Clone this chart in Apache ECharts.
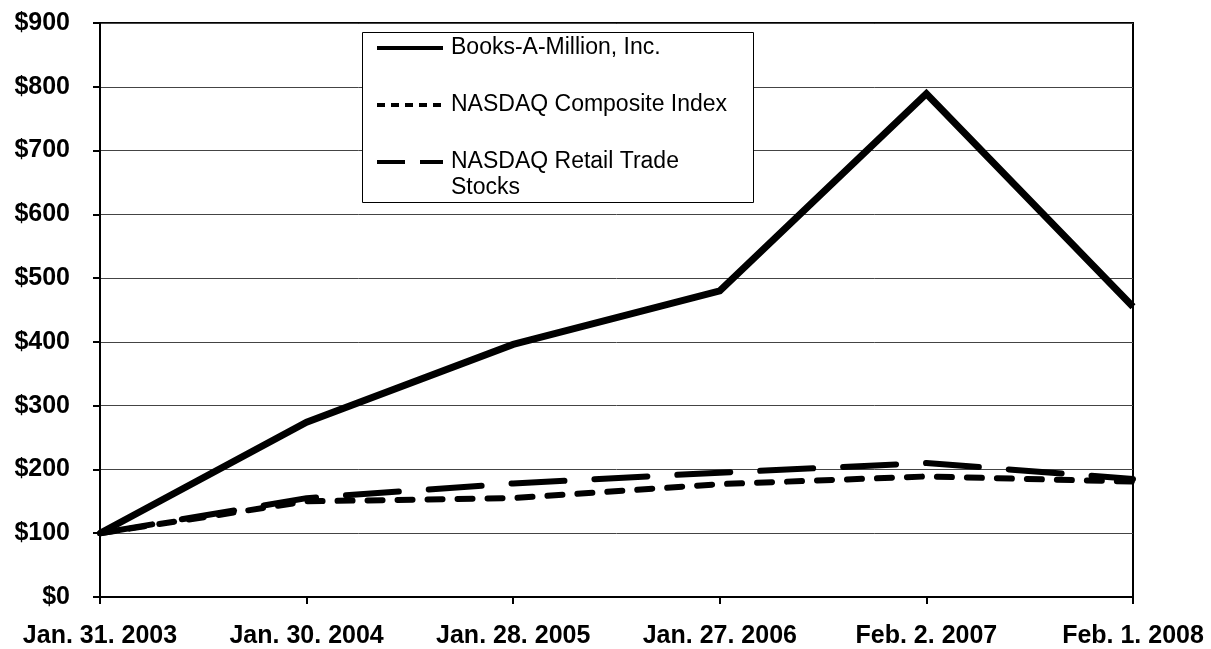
<!DOCTYPE html>
<html>
<head>
<meta charset="utf-8">
<script src="https://cdn.jsdelivr.net/npm/echarts@6/dist/echarts.min.js"></script>
<style>
html,body{margin:0;padding:0;background:#fff;}
#chart{width:1211px;height:649px;}
</style>
</head>
<body>
<div id="chart"></div>
<script>
const categories = ['Jan. 31. 2003','Jan. 30. 2004','Jan. 28. 2005','Jan. 27. 2006','Feb. 2. 2007','Feb. 1. 2008'];
const booksAMillion = [100, 274, 396, 480, 789, 455];
const nasdaqComposite = [100, 150, 155, 177, 189, 181];
const nasdaqRetail = [100, 155, 178, 195, 210, 185];
const seriesNames = ['Books-A-Million, Inc.', 'NASDAQ Composite Index', 'NASDAQ Retail Trade\nStocks'];

const font = '"Liberation Sans", Arial, sans-serif';
const styles = {
  books: {color: '#000', width: 7, type: 'solid', cap: 'butt', join: 'miter'},
  composite: {color: '#000', width: 6, type: [15, 15], cap: 'round'},
  retail: {color: '#000', width: 6, type: [53, 30], cap: 'round'}
};
const legendStyles = [{width: 4, type: 'solid'}, {width: 4, type: [8, 6]}, {width: 4, type: [28, 15]}];

const chart = echarts.init(document.getElementById('chart'), null, {renderer: 'canvas'});

const legendGraphics = [{
  type: 'rect', left: 362, top: 32, z: 100,
  shape: {width: 391, height: 170},
  style: {fill: '#fff', stroke: '#000', lineWidth: 1}
}];
const rowY = [48, 105, 162];
seriesNames.forEach((name, i) => {
  legendGraphics.push({
    type: 'line', z: 101,
    shape: {x1: 377, y1: rowY[i], x2: 443, y2: rowY[i]},
    style: {stroke: '#000', lineWidth: legendStyles[i].width, lineDash: legendStyles[i].type === 'solid' ? null : legendStyles[i].type}
  });
  legendGraphics.push({
    type: 'text', z: 101, x: 451, y: rowY[i] - 13,
    style: {text: name, font: '23px ' + font, fill: '#000', lineHeight: 26, textVerticalAlign: 'top'}
  });
});

chart.setOption({
  animation: false,
  backgroundColor: '#fff',
  grid: {left: 100, right: 78, top: 23, bottom: 49, show: true, borderColor: '#000', borderWidth: 2, backgroundColor: 'transparent'},
  xAxis: {
    type: 'category', data: categories, boundaryGap: false,
    axisLine: {lineStyle: {color: '#000', width: 2}},
    axisTick: {show: true, length: 7, lineStyle: {color: '#000', width: 2}, alignWithLabel: true},
    axisLabel: {fontFamily: font, fontSize: 25, fontWeight: 'bold', color: '#000', margin: 27, interval: 0},
    splitLine: {show: false}
  },
  yAxis: {
    type: 'value', min: 0, max: 900, interval: 100,
    axisLine: {show: true, lineStyle: {color: '#000', width: 2}},
    axisTick: {show: true, length: 7, lineStyle: {color: '#000', width: 2}},
    axisLabel: {fontFamily: font, fontSize: 25, fontWeight: 'bold', color: '#000', margin: 30, formatter: v => '$' + v},
    splitLine: {show: true, lineStyle: {color: '#444', width: 1}}
  },
  graphic: legendGraphics,
  series: [
    {name: seriesNames[2], type: 'line', data: nasdaqRetail, symbol: 'none', z: 3, lineStyle: styles.retail},
    {name: seriesNames[1], type: 'line', data: nasdaqComposite, symbol: 'none', z: 4, lineStyle: styles.composite},
    {name: seriesNames[0], type: 'line', data: booksAMillion, symbol: 'none', z: 5, lineStyle: styles.books}
  ]
});
</script>
</body>
</html>
